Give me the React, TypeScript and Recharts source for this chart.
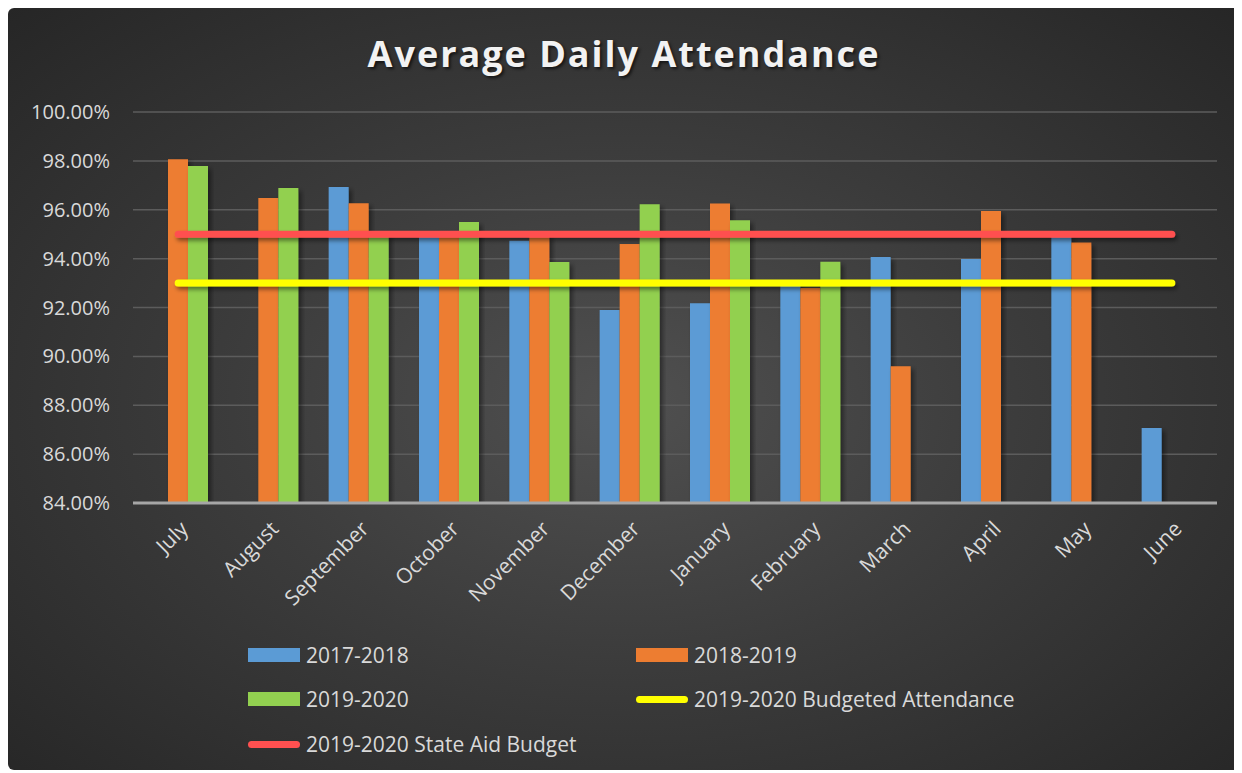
import { ComposedChart, Bar, Line, XAxis, YAxis, CartesianGrid } from "recharts";

const months = ["July", "August", "September", "October", "November", "December", "January", "February", "March", "April", "May", "June"];

const year2017 = [null, null, 96.93, 94.95, 94.73, 91.9, 92.17, 93.0, 94.07, 93.98, 94.9, 87.07];
const year2018 = [98.07, 96.48, 96.27, 95.0, 95.0, 94.6, 96.26, 92.8, 89.6, 95.95, 94.66, 83.93];
const year2019 = [97.79, 96.89, 95.0, 95.5, 93.86, 96.22, 95.57, 93.87, null, null, null, null];
const budgeted = [93, 93, 93, 93, 93, 93, 93, 93, 93, 93, 93, 93];
const stateAid = [95, 95, 95, 95, 95, 95, 95, 95, 95, 95, 95, 95];

const yTicks = [84, 86, 88, 90, 92, 94, 96, 98, 100];

const data = months.map((m, i) => ({
  month: m,
  y2017: year2017[i],
  y2018: year2018[i],
  y2019: year2019[i],
  budget: budgeted[i],
  stateAid: stateAid[i],
}));

const BLUE = "#5b9bd5";
const ORANGE = "#ed7d31";
const GREEN = "#92d050";
const YELLOW = "#ffff00";
const RED = "#ff5050";
const TEXT = "#d9d9d9";
const FONT = "'Open Sans', sans-serif";

const MonthTick = (props: any) => {
  const { x, y, payload } = props;
  return (
    <g transform={`translate(${x + 6},${y + 14})`}>
      <text
        transform="rotate(-45)"
        textAnchor="end"
        fill={TEXT}
        fontSize={21}
        fontFamily={FONT}
        dy="0.35em"
      >
        {payload.value}
      </text>
    </g>
  );
};

const legendItems = [
  { label: "2017-2018", color: BLUE, kind: "bar", left: 240, top: 633 },
  { label: "2018-2019", color: ORANGE, kind: "bar", left: 628, top: 633 },
  { label: "2019-2020", color: GREEN, kind: "bar", left: 240, top: 677 },
  { label: "2019-2020 Budgeted Attendance", color: YELLOW, kind: "line", left: 628, top: 677 },
  { label: "2019-2020 State Aid Budget", color: RED, kind: "line", left: 240, top: 722 },
];

export default function App() {
  return (
    <div
      style={{
        position: "relative",
        width: 1232,
        height: 762,
        borderRadius: 6,
        overflow: "hidden",
        background: "radial-gradient(ellipse at 50% 52%, #505050 0%, #3c3c3c 45%, #262626 100%)",
        fontFamily: FONT,
      }}
    >
      <div
        style={{
          position: "absolute",
          top: 21,
          left: 0,
          width: "100%",
          textAlign: "center",
          color: "#f2f2f2",
          fontSize: 36,
          fontWeight: 700,
          letterSpacing: 2,
          textShadow: "2px 2px 3px rgba(0,0,0,0.6)",
        }}
      >
        Average Daily Attendance
      </div>

      <ComposedChart
        width={1232}
        height={762}
        data={data}
        margin={{ top: 104, right: 23, left: 15, bottom: 127 }}
        barSize={20}
        barGap={0}
        style={{ position: "absolute", top: 0, left: 0 }}
      >
        <defs>
          <filter id="shade" x="-20%" y="-20%" width="150%" height="150%">
            <feDropShadow dx="3" dy="3" stdDeviation="2.5" floodColor="#000" floodOpacity="0.45" />
          </filter>
          <filter id="lineShade" filterUnits="userSpaceOnUse" x="0" y="0" width="1232" height="762">
            <feDropShadow dx="2" dy="3" stdDeviation="2" floodColor="#000" floodOpacity="0.45" />
          </filter>
        </defs>
        <CartesianGrid vertical={false} stroke="#5c5c5c" strokeWidth={1.5} />
        <XAxis
          dataKey="month"
          height={140}
          tick={<MonthTick />}
          tickLine={false}
          axisLine={{ stroke: "#a6a6a6", strokeWidth: 3 }}
          interval={0}
        />
        <YAxis
          domain={[84, 100]}
          ticks={yTicks}
          allowDataOverflow
          width={110}
          axisLine={false}
          tickLine={false}
          tickMargin={17}
          tickFormatter={(v: number) => v.toFixed(2) + "%"}
          tick={{ fill: TEXT, fontSize: 20, fontFamily: FONT }}
        />
        <Bar dataKey="y2017" fill={BLUE} filter="url(#shade)" isAnimationActive={false} />
        <Bar dataKey="y2018" fill={ORANGE} filter="url(#shade)" isAnimationActive={false} />
        <Bar dataKey="y2019" fill={GREEN} filter="url(#shade)" isAnimationActive={false} />
        <Line
          dataKey="budget"
          stroke={YELLOW}
          strokeWidth={7}
          strokeLinecap="round"
          dot={false}
          filter="url(#lineShade)"
          isAnimationActive={false}
        />
        <Line
          dataKey="stateAid"
          stroke={RED}
          strokeWidth={7}
          strokeLinecap="round"
          dot={false}
          filter="url(#lineShade)"
          isAnimationActive={false}
        />
      </ComposedChart>

      {legendItems.map((item) => (
        <div
          key={item.label}
          style={{
            position: "absolute",
            left: item.left,
            top: item.top,
            display: "flex",
            alignItems: "center",
            color: TEXT,
            fontSize: 21,
            height: 28,
          }}
        >
          <span
            style={{
              display: "inline-block",
              width: 52,
              height: item.kind === "bar" ? 14 : 7,
              borderRadius: item.kind === "bar" ? 0 : 4,
              background: item.color,
              marginRight: 6,
            }}
          />
          {item.label}
        </div>
      ))}
    </div>
  );
}
